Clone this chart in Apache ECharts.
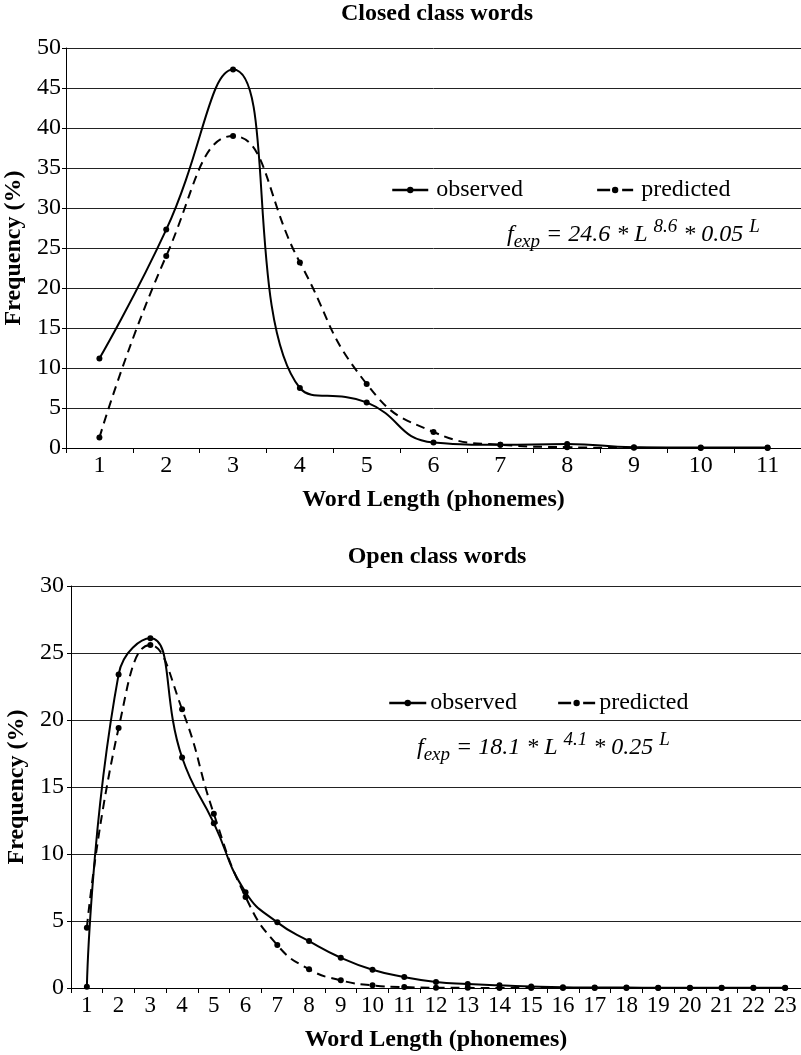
<!DOCTYPE html>
<html>
<head>
<meta charset="utf-8">
<script src="https://cdn.jsdelivr.net/npm/echarts@6/dist/echarts.min.js"></script>
<style>
html,body{margin:0;padding:0;background:#fff;}
#chart{width:801px;height:1055px;}
</style>
</head>
<body>
<div id="chart"></div>
<script>
const closedCategories = ['1','2','3','4','5','6','7','8','9','10','11'];
const closedObserved = [11.2, 27.3, 47.3, 7.5, 5.7, 0.7, 0.4, 0.5, 0.1, 0.05, 0.05];
const closedPredicted = [1.3, 24.0, 39.0, 23.2, 8.0, 2.0, 0.4, 0.1, 0.02, 0.0, 0.0];

const openCategories = ['1','2','3','4','5','6','7','8','9','10','11','12','13','14','15','16','17','18','19','20','21','22','23'];
const openObserved = [0.1, 23.4, 26.1, 17.2, 12.3, 7.15, 4.9, 3.5, 2.26, 1.36, 0.82, 0.45, 0.3, 0.2, 0.12, 0.06, 0.04, 0.03, 0.02, 0.02, 0.01, 0.01, 0.01];
const openPredicted = [4.5, 19.4, 25.6, 20.8, 13.0, 6.8, 3.2, 1.4, 0.57, 0.2, 0.07, 0.02, 0.01, 0, 0, 0, 0, 0, 0, 0, 0, 0, 0];

const FONT = '"Liberation Serif", "Times New Roman", serif';
const FS = 24;

function xAxis(gridIndex, data, labelSize) {
  return {
    type: 'category', gridIndex, data, boundaryGap: true,
    name: 'Word Length (phonemes)', nameLocation: 'middle', nameGap: 40,
    nameTextStyle: { fontFamily: FONT, fontSize: FS, fontWeight: 'bold', color: '#000' },
    axisLine: { lineStyle: { color: '#000', width: 1 } },
    axisTick: { show: true, alignWithLabel: false, length: 5, lineStyle: { color: '#000' } },
    axisLabel: { fontFamily: FONT, fontSize: labelSize, color: '#000', margin: 6, interval: 0 },
    splitLine: { show: false }
  };
}
function yAxis(gridIndex, max, margin, gap) {
  return {
    type: 'value', gridIndex, min: 0, max, interval: 5,
    name: 'Frequency (%)', nameLocation: 'middle', nameGap: gap, nameRotate: 90,
    nameTextStyle: { fontFamily: FONT, fontSize: FS, fontWeight: 'bold', color: '#000' },
    axisLine: { show: true, lineStyle: { color: '#000', width: 1 } },
    axisTick: { show: true, length: 4, lineStyle: { color: '#000' } },
    axisLabel: { fontFamily: FONT, fontSize: FS, color: '#000', margin: margin },
    splitLine: { show: true, lineStyle: { color: '#222', width: 1 } }
  };
}
function lineSeries(name, data, xi, dashed) {
  return {
    type: 'line', name, data, xAxisIndex: xi, yAxisIndex: xi,
    smooth: 0.5, symbol: 'circle', symbolSize: 6,
    itemStyle: { color: '#000' },
    lineStyle: { color: '#000', width: 2, type: dashed ? [9, 6] : 'solid' },
    z: dashed ? 3 : 4
  };
}
const richStyle = {
  i: { fontFamily: FONT, fontSize: FS, fontStyle: 'italic', color: '#000' },
  sub: { fontFamily: FONT, fontSize: 19, fontStyle: 'italic', color: '#000', padding: [14, 0, 0, 0] },
  sup: { fontFamily: FONT, fontSize: 19, fontStyle: 'italic', color: '#000', padding: [0, 0, 16, 0] }
};
function legendData() {
  return [
    { name: 'observed', lineStyle: { type: 'solid', width: 2.5 } },
    { name: 'predicted', lineStyle: { type: [13, 12], width: 2.5 } }
  ];
}

const chart = echarts.init(document.getElementById('chart'), null, { renderer: 'canvas' });
chart.setOption({
  backgroundColor: '#fff',
  animation: false,
  title: [
    { text: 'Closed class words', left: 437, top: 2, textAlign: 'center', padding: 0,
      textStyle: { fontFamily: FONT, fontSize: FS, fontWeight: 'bold', color: '#000' } },
    { text: 'Open class words', left: 437, top: 545, textAlign: 'center', padding: 0,
      textStyle: { fontFamily: FONT, fontSize: FS, fontWeight: 'bold', color: '#000' } }
  ],
  legend: [
    { data: legendData(), left: 391, top: 178, padding: 0, itemWidth: 36, itemHeight: 8, itemGap: 73,
      textStyle: { fontFamily: FONT, fontSize: FS, color: '#000', padding: [0,0,0,3] } },
    { data: legendData(), left: 388, top: 691, padding: 0, itemWidth: 37, itemHeight: 8, itemGap: 40,
      textStyle: { fontFamily: FONT, fontSize: FS, color: '#000', padding: [0,0,0,-1] } }
  ],
  grid: [
    { left: 66, right: 0, top: 48, height: 400, containLabel: false, outerBoundsMode: 'none' },
    { left: 71, right: 0, top: 586, height: 402, containLabel: false, outerBoundsMode: 'none' }
  ],
  xAxis: [ xAxis(0, closedCategories, FS), xAxis(1, openCategories, 23) ],
  yAxis: [ yAxis(0, 50, 5, 37), yAxis(1, 30, 7, 38) ],
  series: [
    lineSeries('observed', closedObserved, 0, false),
    lineSeries('predicted', closedPredicted, 0, true),
    lineSeries('observed', openObserved, 1, false),
    lineSeries('predicted', openPredicted, 1, true)
  ],
  graphic: [
    { type: 'text', left: 507, top: 217, z: 10,
      style: { text: '{i|f}{sub|exp}{i| = 24.6 * L }{sup|8.6}{i| * 0.05 }{sup|L}', rich: richStyle } },
    { type: 'text', left: 417, top: 730, z: 10,
      style: { text: '{i|f}{sub|exp}{i| = 18.1 * L }{sup|4.1}{i| * 0.25 }{sup|L}', rich: richStyle } }
  ]
});
</script>
</body>
</html>
